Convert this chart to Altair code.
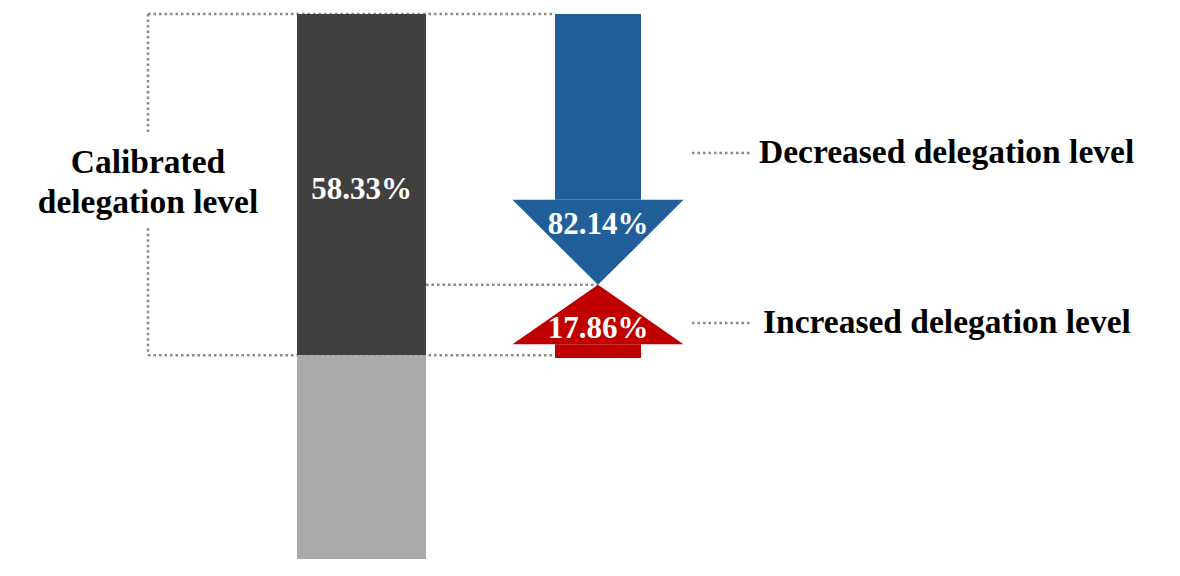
import altair as alt
import pandas as pd

# ---- data (share of the bar height, 0..100) ----
bar_segments = ["Calibrated", "Rest"]
bar_top = [100.0, 37.4]
bar_bottom = [37.4, 0.0]
bar_colors = ["#404040", "#aaaaaa"]
bar_label = "58.33%"

arrow_names = ["Decreased delegation level", "Increased delegation level"]
arrow_labels = ["82.14%", "17.86%"]
arrow_start = [100.0, 36.9]      # tail end of each arrow
arrow_head_base = [65.9, 39.4]   # where the arrow head begins
arrow_tip = [50.3, 50.3]         # tip of each arrow
arrow_colors = ["#215f9a", "#c00000"]
legend_levels = [74.5, 43.3]

caption = ["Calibrated", "delegation level"]
caption_gap = [78.3, 60.7]

# ---- layout (styles) ----
W, H = 1164, 560
BAR_X, BAR_W = 353.5, 129
ARR_X, SHAFT_W, HEAD_W = 590, 86, 171
BRACKET_X = 140
LEG_X0, LEG_X1 = 684, 742
DOT = "#8c8c7a"
FONT = "Liberation Serif"

xs = alt.Scale(domain=[0, W], nice=False, zero=False)
ys = alt.Scale(domain=[-1.65, 101.1], nice=False, zero=False)
X = lambda f: alt.X(f, type="quantitative", scale=xs, axis=None)
Y = lambda f: alt.Y(f, type="quantitative", scale=ys, axis=None)

# dotted guide lines
rules = pd.DataFrame([
    dict(x=BRACKET_X, x2=ARR_X - SHAFT_W / 2, y=bar_top[0], y2=bar_top[0]),
    dict(x=BRACKET_X, x2=ARR_X - SHAFT_W / 2, y=bar_bottom[0], y2=bar_bottom[0]),
    dict(x=BAR_X + BAR_W / 2, x2=ARR_X, y=arrow_tip[0], y2=arrow_tip[0]),
    dict(x=BRACKET_X, x2=BRACKET_X, y=bar_top[0], y2=caption_gap[0]),
    dict(x=BRACKET_X, x2=BRACKET_X, y=caption_gap[1], y2=bar_bottom[0]),
    dict(x=LEG_X0, x2=LEG_X1, y=legend_levels[0], y2=legend_levels[0]),
    dict(x=LEG_X0, x2=LEG_X1, y=legend_levels[1], y2=legend_levels[1]),
])
rule_layer = alt.Chart(rules).mark_rule(
    color=DOT, strokeWidth=2.5, strokeDash=[2.5, 3]
).encode(x=X("x"), x2="x2", y=Y("y"), y2="y2")

# stacked bar
bars = pd.DataFrame(dict(seg=bar_segments, top=bar_top, bottom=bar_bottom, c=bar_colors))
bars["x"] = BAR_X - BAR_W / 2
bars["x2"] = BAR_X + BAR_W / 2
bar_layer = alt.Chart(bars).mark_rect().encode(
    x=X("x"), x2="x2", y=Y("top"), y2="bottom", color=alt.Color("c:N", scale=None)
)

# arrow shafts
shafts = pd.DataFrame(dict(name=arrow_names, a=arrow_start, b=arrow_head_base, c=arrow_colors))
shafts["x"] = ARR_X - SHAFT_W / 2
shafts["x2"] = ARR_X + SHAFT_W / 2
shaft_layer = alt.Chart(shafts).mark_rect().encode(
    x=X("x"), x2="x2", y=Y("a"), y2="b", color=alt.Color("c:N", scale=None)
)

# arrow heads (triangles as horizontal areas)
head_rows = []
for n, base, tip, c in zip(arrow_names, arrow_head_base, arrow_tip, arrow_colors):
    head_rows.append(dict(name=n, y=base, x=ARR_X - HEAD_W / 2, x2=ARR_X + HEAD_W / 2, c=c))
    head_rows.append(dict(name=n, y=tip, x=ARR_X, x2=ARR_X, c=c))
heads = pd.DataFrame(head_rows)
head_layers = [
    alt.Chart(heads[heads["name"] == n]).mark_area(orient="horizontal", color=c).encode(
        y=Y("y"), x=X("x"), x2="x2"
    )
    for n, c in zip(arrow_names, arrow_colors)
]

# texts
texts = pd.DataFrame([
    dict(t=bar_label, x=BAR_X, y=67.7, c="white", a="center", s=31),
    dict(t=arrow_labels[0], x=ARR_X, y=61.3, c="white", a="center", s=31),
    dict(t=arrow_labels[1], x=ARR_X, y=42.2, c="white", a="center", s=31),
    dict(t=caption[0], x=BRACKET_X, y=72.7, c="black", a="center", s=33.5),
    dict(t=caption[1], x=BRACKET_X, y=65.3, c="black", a="center", s=33.5),
    dict(t=arrow_names[0], x=LEG_X1 + 9, y=legend_levels[0], c="black", a="left", s=33.5),
    dict(t=arrow_names[1], x=LEG_X1 + 13, y=legend_levels[1], c="black", a="left", s=33.5),
])
text_layers = [
    alt.Chart(texts[(texts["a"] == a) & (texts["s"] == s)]).mark_text(
        font=FONT, fontWeight="bold", fontSize=s, align=a, baseline="middle"
    ).encode(x=X("x"), y=Y("y"), text="t:N", color=alt.Color("c:N", scale=None))
    for a, s in [("center", 31), ("center", 33.5), ("left", 33.5)]
]

chart = alt.layer(
    rule_layer, bar_layer, shaft_layer, *head_layers, *text_layers
).properties(
    width=W, height=H, padding=0,
    autosize=alt.AutoSizeParams(type="fit", contains="padding"),
).configure_view(stroke=None)

chart.save("out.html", embed_options={"renderer": "svg", "actions": False})
